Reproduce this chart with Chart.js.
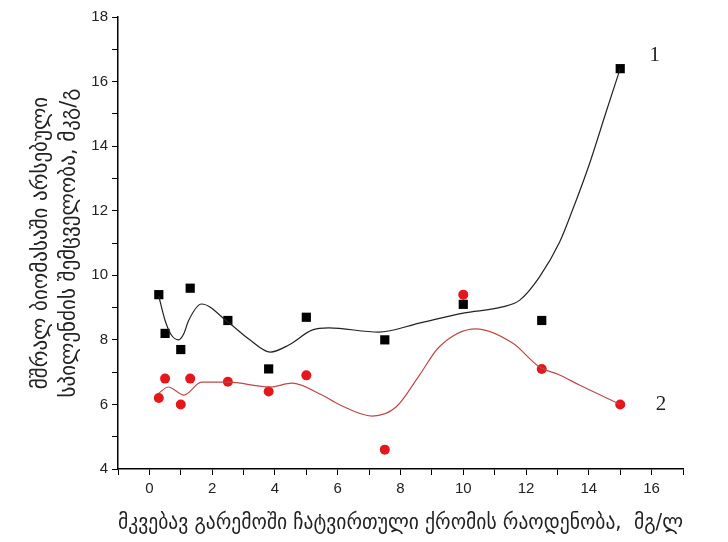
<!DOCTYPE html>
<html>
<head>
<meta charset="utf-8">
<script src="https://cdn.jsdelivr.net/npm/chart.js@4"></script>
<style>
  body { margin: 0; background: #fff; }
  #wrap { width: 728px; height: 542px; }
</style>
</head>
<body>
<div id="wrap"><canvas id="grafico"></canvas></div>
<script>
// measured points
const xPontos = [0.3, 0.5, 1.0, 1.3, 2.5, 3.8, 5.0, 7.5, 10.0, 12.5, 15.0]
const serie1 = [9.4, 8.2, 7.7, 9.6, 8.6, 7.1, 8.7, 8.0, 9.1, 8.6, 16.4]
const serie2 = [6.2, 6.8, 6.0, 6.8, 6.7, 6.4, 6.9, 4.6, 9.4, 7.1, 6.0]

// fitted curves
const xCurva1 = [0.3, 0.5, 0.7, 0.93, 1.1, 1.25, 1.66, 2.5, 3.2, 3.85, 4.44, 5.18, 5.72, 7.3, 8.6, 10.0, 11.25, 11.8, 12.43, 13.07, 13.48, 14.03, 14.57, 15.0]
const yCurva1 = [9.35, 8.6, 8.15, 8.0, 8.2, 8.6, 9.11, 8.55, 8.0, 7.62, 7.84, 8.3, 8.37, 8.24, 8.52, 8.83, 9.02, 9.23, 9.95, 11.03, 12.02, 13.48, 15.12, 16.4]
const xCurva2 = [0.3, 0.6, 1.1, 1.66, 2.5, 3.85, 4.54, 5.5, 6.04, 7.1, 7.86, 8.6, 9.23, 10.4, 11.57, 12.43, 13.07, 13.7, 15.0]
const yCurva2 = [6.35, 6.54, 6.29, 6.69, 6.69, 6.54, 6.66, 6.29, 6.0, 5.64, 5.92, 6.9, 7.78, 8.34, 7.9, 7.16, 6.91, 6.6, 6.0]

const rotulos = ['1', '2']
const posRotulos = [[16.1, 16.8], [16.3, 6.0]]

const tituloX = 'მკვებავ გარემოში ჩატვირთული ქრომის რაოდენობა,  მგ/ლ'
const tituloY = ['მშრალ ბიომასაში არსებული', 'სპილენძის შემცველობა, მკგ/გ']

function juntar(xs, ys) {
    let saida = []
    for (let i = 0; i < xs.length; i++) {
        saida.push({ x: xs[i], y: ys[i] })
    }
    return saida
}

const rotulosPlugin = {
    id: 'rotulos',
    afterDatasetsDraw(chart) {
        const ctx = chart.ctx
        ctx.save()
        ctx.font = '21px "Liberation Serif"'
        ctx.fillStyle = '#222'
        ctx.textAlign = 'center'
        ctx.textBaseline = 'middle'
        for (let i = 0; i < rotulos.length; i++) {
            const px = chart.scales.x.getPixelForValue(posRotulos[i][0])
            const py = chart.scales.y.getPixelForValue(posRotulos[i][1])
            ctx.fillText(rotulos[i], px, py)
        }
        ctx.restore()
    }
}

const ctx = document.getElementById('grafico').getContext('2d')

const grafico = new Chart(ctx, {
    type: 'scatter',
    data: {
        datasets: [
            {
                data: juntar(xCurva1, yCurva1),
                showLine: true,
                cubicInterpolationMode: 'monotone',
                borderColor: '#222',
                borderWidth: 1.2,
                pointRadius: 0
            },
            {
                data: juntar(xCurva2, yCurva2),
                showLine: true,
                cubicInterpolationMode: 'monotone',
                borderColor: '#c04848',
                borderWidth: 1.2,
                pointRadius: 0
            },
            {
                data: juntar(xPontos, serie1),
                pointStyle: 'rect',
                pointRadius: 6.5,
                backgroundColor: '#000',
                borderColor: '#000',
                borderWidth: 0
            },
            {
                data: juntar(xPontos, serie2),
                pointStyle: 'circle',
                pointRadius: 5,
                backgroundColor: '#e3171c',
                borderColor: '#e3171c',
                borderWidth: 0
            }
        ]
    },
    options: {
        responsive: true,
        maintainAspectRatio: false,
        animation: false,
        layout: { padding: { top: 17, right: 45, left: 0, bottom: 0 } },
        plugins: {
            legend: { display: false },
            tooltip: { enabled: false }
        },
        scales: {
            x: {
                type: 'linear',
                min: -1,
                max: 17,
                afterFit(scale) { scale.height = 73 },
                border: { display: true, color: '#000', width: 1.5 },
                grid: { display: true, drawOnChartArea: false, drawTicks: true, tickLength: 6, color: '#000' },
                ticks: {
                    stepSize: 1,
                    autoSkip: false,
                    maxRotation: 0,
                    padding: 5,
                    color: '#222',
                    font: { family: '"Liberation Sans"', size: 15 },
                    callback: function (v) {
                        return (v % 2 === 0 && v >= 0 && v <= 16) ? String(v) : ''
                    }
                },
                title: {
                    display: true,
                    text: tituloX,
                    color: '#222',
                    font: { family: '"DejaVu Sans"', size: 22, lineHeight: 1.2 },
                    padding: { top: 0, bottom: 6 }
                }
            },
            y: {
                type: 'linear',
                min: 4,
                max: 18,
                afterFit(scale) { scale.width = 118 },
                border: { display: true, color: '#000', width: 1.5 },
                grid: { display: true, drawOnChartArea: false, drawTicks: true, tickLength: 6, color: '#000' },
                ticks: {
                    stepSize: 1,
                    autoSkip: false,
                    padding: 4,
                    color: '#222',
                    font: { family: '"Liberation Sans"', size: 15 },
                    callback: function (v) {
                        return v % 2 === 0 ? String(v) : ''
                    }
                },
                title: {
                    display: true,
                    text: tituloY,
                    color: '#222',
                    font: { family: '"DejaVu Sans"', size: 21, lineHeight: 1.33 },
                    padding: { top: 28, bottom: 0 }
                }
            }
        }
    },
    plugins: [rotulosPlugin]
})
</script>
</body>
</html>
